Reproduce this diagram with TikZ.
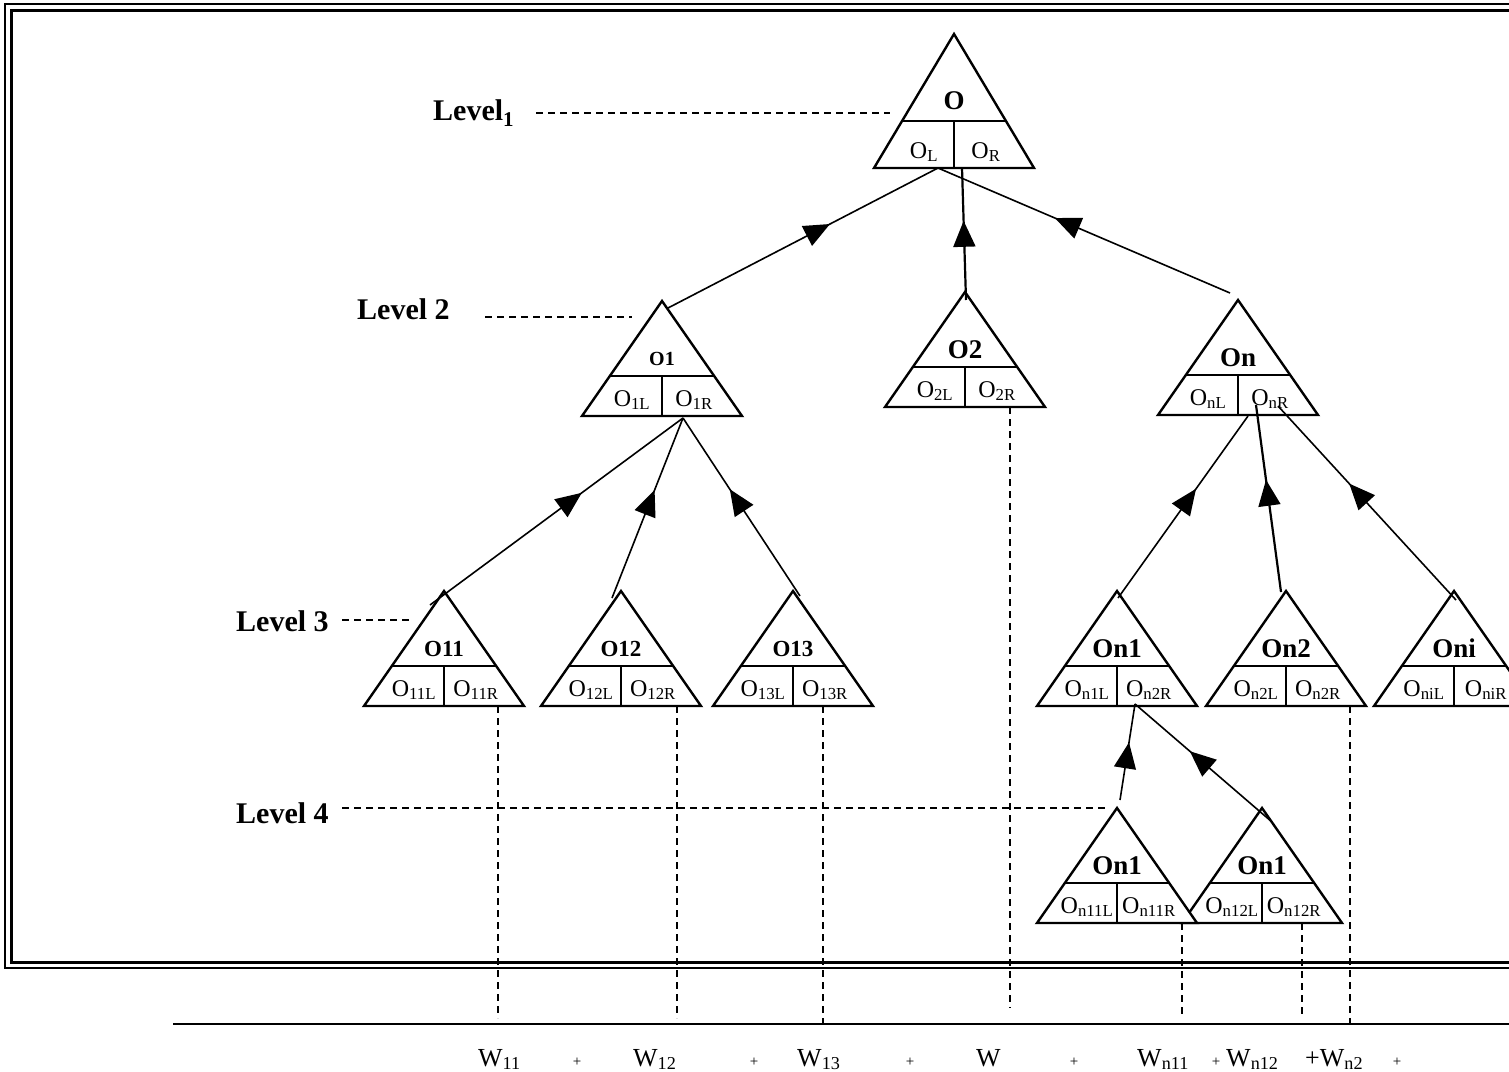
\documentclass[tikz,border=0pt]{standalone}
\usepackage{fontspec}
\setmainfont{Liberation Serif}
\usetikzlibrary{arrows.meta,decorations.markings}

% one object: triangle with name, split into left and right part
\newcommand{\otri}[7][115]{%
  \coordinate (#2-top) at (#3,#4) ;
  \draw[tri,fill=white] (#3,#4) -- (#3-80,#4+#1) -- (#3+80,#4+#1) -- cycle ;
  \draw[tri] (#3-52,#4+0.65*#1) -- (#3+52,#4+0.65*#1) ;
  \draw[tri] (#3,#4+0.65*#1) -- (#3,#4+#1) ;
  \draw (#3,#4+0.5*#1) node[olabel] (#2) {#5} ;
  \draw (#3-30,#4+#1-10) node[sublabel] (#2-l) {#6} ;
  \draw (#3+32,#4+#1-10) node[sublabel] (#2-r) {#7} ;
}

\begin{document}
\begin{tikzpicture}[x=1pt,y=-1pt,
    tri/.style={line width=2.4pt},
    link/.style={line width=1.6pt,postaction={decorate},
      decoration={markings,mark=at position 0.6 with {\arrow{Triangle[length=26pt,width=22pt]}}}},
    guide/.style={line width=1.5pt,dash pattern=on 7pt off 5pt},
    olabel/.style={font=\bfseries\fontsize{27}{27}\selectfont,inner sep=0pt},
    sublabel/.style={font=\fontsize{24}{24}\selectfont,anchor=base,inner sep=0pt},
    lvl/.style={font=\bfseries\fontsize{30}{30}\selectfont,inner sep=0pt,anchor=west},
    wlabel/.style={font=\fontsize{26}{26}\selectfont,anchor=base west,inner sep=0pt},
    plus/.style={font=\fontsize{15}{15}\selectfont,anchor=base,inner sep=0pt}]
    \useasboundingbox (0,0) rectangle (1509,1071) ;

    % double frame
    \draw[line width=2pt] (5,4) rectangle (1530,968) ;
    \draw[line width=3pt] (11,10) rectangle (1524,962) ;

    % objects
    \otri[134]{O}{954}{34}{O}{O\textsubscript{L}}{O\textsubscript{R}}
    \otri{O1}{662}{301}{\fontsize{20}{20}\selectfont O1}{O\textsubscript{1L}}{O\textsubscript{1R}}
    \otri{O2}{965}{292}{O2}{O\textsubscript{2L}}{O\textsubscript{2R}}
    \otri{On}{1238}{300}{On}{O\textsubscript{nL}}{O\textsubscript{nR}}
    \otri{O11}{444}{591}{\fontsize{23}{23}\selectfont O11}{O\textsubscript{11L}}{O\textsubscript{11R}}
    \otri{O12}{621}{591}{\fontsize{23}{23}\selectfont O12}{O\textsubscript{12L}}{O\textsubscript{12R}}
    \otri{O13}{793}{591}{\fontsize{23}{23}\selectfont O13}{O\textsubscript{13L}}{O\textsubscript{13R}}
    \otri{On1}{1117}{591}{On1}{O\textsubscript{n1L}}{O\textsubscript{n2R}}
    \otri{On2}{1286}{591}{On2}{O\textsubscript{n2L}}{O\textsubscript{n2R}}
    \otri{Oni}{1454}{591}{Oni}{O\textsubscript{niL}}{O\textsubscript{niR}}
    \otri{On12}{1262}{808}{On1}{O\textsubscript{n12L}}{O\textsubscript{n12R}}
    \otri{On11}{1117}{808}{On1}{O\textsubscript{n11L}}{O\textsubscript{n11R}}

    % ends of the links
    \coordinate (O-a) at (938,168) ;
    \coordinate (O-b) at (962,168) ;
    \coordinate (O1-a) at (683,418) ;
    \coordinate (On-a) at (1248,416) ;
    \coordinate (On-b) at (1256,405) ;
    \coordinate (On-c) at (1278,406) ;
    \coordinate (On1-a) at (1135,704) ;
    \coordinate (O1-in) at (668,308) ;
    \coordinate (O2-in) at (966,300) ;
    \coordinate (On-in) at (1230,293) ;
    \coordinate (O11-in) at (430,605) ;
    \coordinate (O12-in) at (612,598) ;
    \coordinate (O13-in) at (800,596) ;
    \coordinate (On1-in) at (1118,598) ;
    \coordinate (On2-in) at (1281,592) ;
    \coordinate (Oni-in) at (1456,600) ;
    \coordinate (On11-in) at (1120,800) ;
    \coordinate (On12-in) at (1272,822) ;

    \draw[link] (O1-in) -- (O-a) ;
    \draw[link,line width=2.2pt] (O2-in) -- (O-b) ;
    \draw[link] (On-in) -- (O-a) ;
    \draw[link] (O11-in) -- (O1-a) ;
    \draw[link] (O12-in) -- (O1-a) ;
    \draw[link] (O13-in) -- (O1-a) ;
    \draw[link] (On1-in) -- (On-a) ;
    \draw[link,line width=2.2pt] (On2-in) -- (On-b) ;
    \draw[link] (Oni-in) -- (On-c) ;
    \draw[link] (On11-in) -- (On1-a) ;
    \draw[link] (On12-in) -- (On1-a) ;

    % levels
    \draw (433,113) node[lvl] (lvl1) {Level\textsubscript{1}} ;
    \draw (357,309) node[lvl] (lvl2) {Level 2} ;
    \draw (236,621) node[lvl] (lvl3) {Level 3} ;
    \draw (236,813) node[lvl] (lvl4) {Level 4} ;
    \coordinate (l1a) at (536,113) ; \coordinate (l1b) at (890,113) ;
    \coordinate (l2a) at (485,317) ; \coordinate (l2b) at (632,317) ;
    \coordinate (l3a) at (342,620) ; \coordinate (l3b) at (412,620) ;
    \coordinate (l4a) at (342,808) ; \coordinate (l4b) at (1105,808) ;
    \draw[guide] (l1a) -- (l1b) ;
    \draw[guide] (l2a) -- (l2b) ;
    \draw[guide] (l3a) -- (l3b) ;
    \draw[guide] (l4a) -- (l4b) ;

    % weights
    \draw[line width=2.4pt] (173,1024) -- (1530,1024) ;
    \draw (478,1066) node[wlabel] (w11) {W\textsubscript{11}} ;
    \draw (577,1066) node[plus] (p1) {+} ;
    \draw (633,1066) node[wlabel] (w12) {W\textsubscript{12}} ;
    \draw (754,1066) node[plus] (p2) {+} ;
    \draw (797,1066) node[wlabel] (w13) {W\textsubscript{13}} ;
    \draw (910,1066) node[plus] (p3) {+} ;
    \draw (976,1066) node[wlabel] (w2) {W} ;
    \draw (1074,1066) node[plus] (p4) {+} ;
    \draw (1137,1066) node[wlabel] (wn11) {W\textsubscript{n11}} ;
    \draw (1216,1066) node[plus] (p5) {+} ;
    \draw (1226,1066) node[wlabel] (wn12) {W\textsubscript{n12}} ;
    \draw (1305,1066) node[wlabel] (wn2) {+W\textsubscript{n2}} ;
    \draw (1397,1066) node[plus] (p6) {+} ;

    % drops
    \draw[guide] (498,706) -- (498,1018) ;
    \draw[guide] (677,706) -- (677,1018) ;
    \draw[guide,line width=2pt] (823,706) -- (823,1024) ;
    \draw[guide] (1010,407) -- (1010,1008) ;
    \draw[guide] (1182,923) -- (1182,1018) ;
    \draw[guide,line width=2pt] (1302,923) -- (1302,1016) ;
    \draw[guide,line width=2pt] (1350,706) -- (1350,1024) ;
  \end{tikzpicture}
\end{document}
